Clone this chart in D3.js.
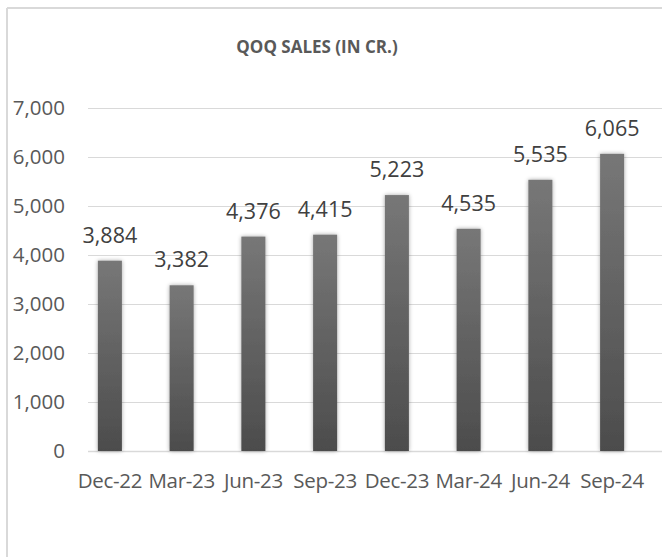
<!DOCTYPE html>
<html>
<head>
<meta charset="utf-8">
<script src="https://cdn.jsdelivr.net/npm/d3@7"></script>
<style>
  html, body { margin: 0; padding: 0; background: #fff; }
  svg { display: block; }
</style>
</head>
<body>
<div id="chart"></div>
<script>
const width = 662, height = 557;

const quarters = ["Dec-22", "Mar-23", "Jun-23", "Sep-23", "Dec-23", "Mar-24", "Jun-24", "Sep-24"];
const sales = [3884, 3382, 4376, 4415, 5223, 4535, 5535, 6065];
const yTicks = [0, 1000, 2000, 3000, 4000, 5000, 6000, 7000];
const chartTitle = "QOQ SALES (IN CR.)";

const fontFamily = "'Open Sans', sans-serif";

const svg = d3.select("#chart").append("svg")
  .attr("width", width)
  .attr("height", height);

const defs = svg.append("defs");

const grad = defs.append("linearGradient")
  .attr("id", "barGrad")
  .attr("x1", 0).attr("y1", 0).attr("x2", 0).attr("y2", 1);
grad.append("stop").attr("offset", "0%").attr("stop-color", "#777777");
grad.append("stop").attr("offset", "100%").attr("stop-color", "#4c4c4c");

const shadow = defs.append("filter")
  .attr("id", "barShadow")
  .attr("x", "-50%").attr("y", "-10%")
  .attr("width", "200%").attr("height", "120%");
shadow.append("feGaussianBlur")
  .attr("in", "SourceAlpha")
  .attr("stdDeviation", 2.2)
  .attr("result", "blur");
shadow.append("feComponentTransfer")
  .attr("in", "blur")
  .attr("result", "soft")
  .append("feFuncA").attr("type", "linear").attr("slope", 0.35);
const merge = shadow.append("feMerge");
merge.append("feMergeNode").attr("in", "soft");
merge.append("feMergeNode").attr("in", "SourceGraphic");

// chart frame (left and top edges visible)
svg.append("line")
  .attr("x1", 7).attr("x2", 7).attr("y1", 8).attr("y2", height)
  .attr("stroke", "#d9d9d9").attr("stroke-width", 2);
svg.append("line")
  .attr("x1", 7).attr("x2", width).attr("y1", 8).attr("y2", 8)
  .attr("stroke", "#d9d9d9").attr("stroke-width", 2);

// Scales
const x = d3.scaleBand()
  .domain(quarters)
  .range([74, 648])
  .paddingInner(0.665)
  .paddingOuter(0.3325);

const y = d3.scaleLinear()
  .domain([0, 7000])
  .range([451, 108]);

const gridLeft = 88, gridRight = width;

// Gridlines
svg.append("g")
  .selectAll("line")
  .data(yTicks)
  .join("line")
  .attr("x1", gridLeft).attr("x2", gridRight)
  .attr("y1", d => Math.round(y(d)) + 0.5)
  .attr("y2", d => Math.round(y(d)) + 0.5)
  .attr("stroke", "#d9d9d9")
  .attr("stroke-width", d => d === 0 ? 1.5 : 1);

// Y axis labels
const yAxis = svg.append("g")
  .attr("transform", "translate(71,0)")
  .call(d3.axisLeft(y).tickValues(yTicks).tickFormat(d3.format(",")).tickSize(0).tickPadding(6));
yAxis.select(".domain").remove();
yAxis.selectAll("text")
  .attr("font-family", fontFamily)
  .attr("font-size", "20.5px")
  .attr("fill", "#595959");

// X axis labels
const xAxis = svg.append("g")
  .attr("transform", "translate(0,451)")
  .call(d3.axisBottom(x).tickSize(0).tickPadding(22));
xAxis.select(".domain").remove();
xAxis.selectAll("text")
  .attr("font-family", fontFamily)
  .attr("font-size", "20.5px")
  .attr("letter-spacing", "-0.3px")
  .attr("fill", "#595959");

// Bars
svg.append("g")
  .selectAll("rect")
  .data(quarters)
  .join("rect")
  .attr("x", d => x(d))
  .attr("y", (d, i) => y(sales[i]))
  .attr("width", x.bandwidth())
  .attr("height", (d, i) => y(0) - y(sales[i]))
  .attr("fill", "url(#barGrad)")
  .attr("filter", "url(#barShadow)");

// Data labels
svg.append("g")
  .selectAll("text")
  .data(quarters)
  .join("text")
  .attr("x", d => x(d) + x.bandwidth() / 2)
  .attr("y", (d, i) => y(sales[i]) - 18)
  .attr("text-anchor", "middle")
  .attr("font-family", fontFamily)
  .attr("font-size", "21.5px")
  .attr("fill", "#404040")
  .text((d, i) => d3.format(",")(sales[i]));

// Title
svg.append("text")
  .attr("x", 317)
  .attr("y", 53)
  .attr("text-anchor", "middle")
  .attr("font-family", fontFamily)
  .attr("font-size", "17px")
  .attr("font-weight", "bold")
  .attr("fill", "#595959")
  .text(chartTitle);
</script>
</body>
</html>
